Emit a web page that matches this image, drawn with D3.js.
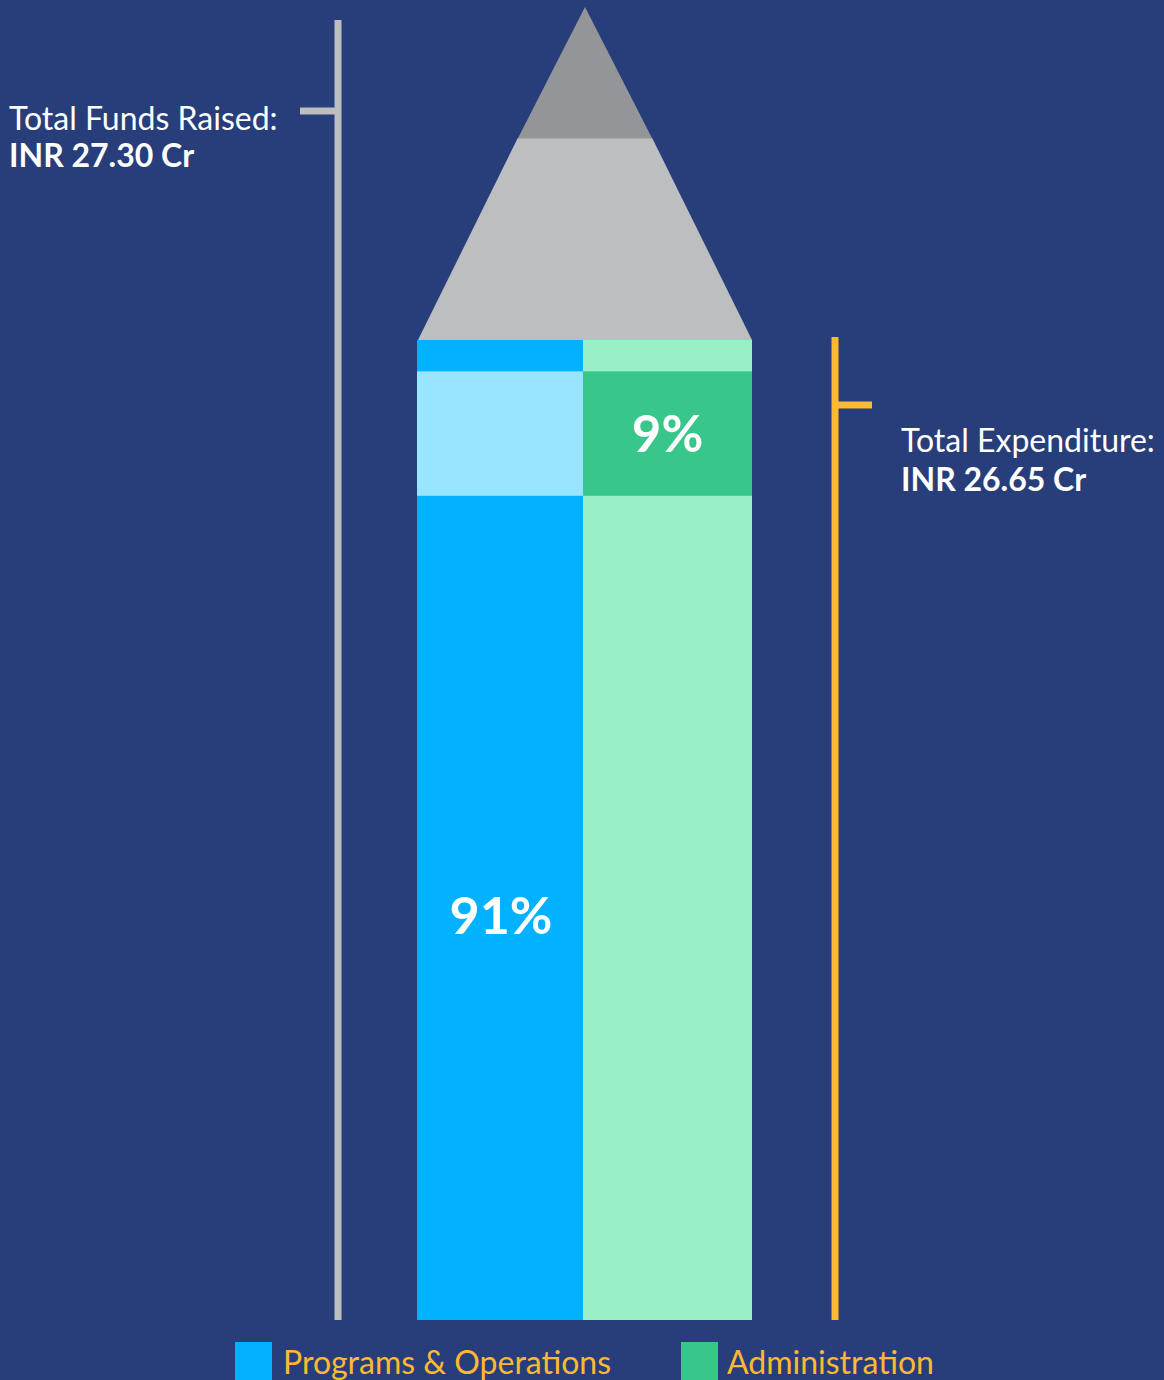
<!DOCTYPE html>
<html>
<head>
<meta charset="utf-8">
<script src="https://cdn.jsdelivr.net/npm/d3@7/dist/d3.min.js"></script>
<style>
  html, body { margin: 0; padding: 0; background: #273e7b; }
  svg { display: block; }
  text { font-family: Lato, "Open Sans", sans-serif; }
</style>
</head>
<body>
<svg id="chart" width="1164" height="1380"></svg>
<script>
// ---- data ----
const categories = ["Programs & Operations", "Administration"];
const shares = [91, 9];                       // percent of expenditure
const shareLabels = ["91%", "9%"];
const baseColors = ["#00b2ff", "#9af0c6"];    // column body colours
const bandColors = ["#99e5ff", "#38c68b"];    // highlighted band colours
const legendColors = ["#00b2ff", "#38c68b"];
const highlightBand = [84.1, 96.8];           // band within the body, % of body height
const fundsLabel = ["Total Funds Raised:", "INR 27.30 Cr"];
const expenseLabel = ["Total Expenditure:", "INR 26.65 Cr"];
const totals = [27.30, 26.65];

// ---- layout ----
const W = 1164, H = 1380;
const svg = d3.select("#chart");
svg.append("rect").attr("width", W).attr("height", H).attr("fill", "#273e7b");

const bodyL = 417, bodyR = 752;
const x = d3.scaleBand().domain(categories).range([bodyL, 749]).padding(0);
const colW = i => (i === categories.length - 1 ? bodyR - x(categories[i]) : x.bandwidth());
const y = d3.scaleLinear().domain([0, 100]).range([1320, 340]);

// pencil tip
const apex = {x: 585, y: 7};
const baseY = y(100);
const tipL = 418, tipR = 752;
const splitY = 138;
const tLerp = (splitY - apex.y) / (baseY - apex.y);
const sL = apex.x + (tipL - apex.x) * tLerp - 1.5, sR = apex.x + (tipR - apex.x) * tLerp + 1.5;
svg.append("path")
  .attr("d", `M${sL},${splitY} L${tipL},${baseY} L${tipR},${baseY} L${sR},${splitY} Z`)
  .attr("fill", "#bcbec0");
svg.append("path")
  .attr("d", `M${apex.x},${apex.y} L${sL},${splitY + 0.5} L${sR},${splitY + 0.5} Z`)
  .attr("fill", "#939598");

// pencil body columns
const cols = categories.map((c, i) => ({c, i}));
svg.selectAll("rect.col").data(cols).enter().append("rect")
  .attr("class", "col")
  .attr("x", d => x(d.c)).attr("width", d => colW(d.i))
  .attr("y", y(100)).attr("height", y(0) - y(100))
  .attr("fill", d => baseColors[d.i]);
svg.selectAll("rect.band").data(cols).enter().append("rect")
  .attr("class", "band")
  .attr("x", d => x(d.c)).attr("width", d => colW(d.i))
  .attr("y", y(highlightBand[1])).attr("height", y(highlightBand[0]) - y(highlightBand[1]))
  .attr("fill", d => bandColors[d.i]);

// percentage labels
svg.append("text")
  .attr("x", x(categories[0]) + colW(0) / 2 + 1).attr("y", 934)
  .attr("text-anchor", "middle").attr("fill", "#fff")
  .attr("font-weight", 700).attr("font-size", 52)
  .text(shareLabels[0]);
svg.append("text")
  .attr("x", x(categories[1]) + colW(1) / 2).attr("y", 452)
  .attr("text-anchor", "middle").attr("fill", "#fff")
  .attr("font-weight", 700).attr("font-size", 51)
  .text(shareLabels[1]);

// funds raised bracket (grey)
svg.append("line").attr("x1", 338).attr("x2", 338).attr("y1", 20).attr("y2", 1320)
  .attr("stroke", "#bcbec0").attr("stroke-width", 7);
svg.append("line").attr("x1", 300).attr("x2", 338).attr("y1", 111).attr("y2", 111)
  .attr("stroke", "#bcbec0").attr("stroke-width", 7);
svg.append("text").attr("x", 9).attr("y", 130).attr("fill", "#fff")
  .attr("font-size", 32).text(fundsLabel[0]);
svg.append("text").attr("x", 9).attr("y", 167).attr("fill", "#fff")
  .attr("font-size", 32).attr("font-weight", 700).text(fundsLabel[1]);

// expenditure bracket (orange)
svg.append("line").attr("x1", 835).attr("x2", 835).attr("y1", 337).attr("y2", 1320)
  .attr("stroke", "#fdb933").attr("stroke-width", 7);
svg.append("line").attr("x1", 835).attr("x2", 872).attr("y1", 405).attr("y2", 405)
  .attr("stroke", "#fdb933").attr("stroke-width", 7);
svg.append("text").attr("x", 901).attr("y", 452).attr("fill", "#fff")
  .attr("font-size", 32).text(expenseLabel[0]);
svg.append("text").attr("x", 901).attr("y", 491).attr("fill", "#fff")
  .attr("font-size", 32).attr("font-weight", 700).text(expenseLabel[1]);

// legend
const legendX = [235, 681];
const lg = svg.selectAll("g.leg").data(cols).enter().append("g")
  .attr("class", "leg")
  .attr("transform", d => `translate(${legendX[d.i]},1342)`);
lg.append("rect").attr("width", 37).attr("height", 40).attr("fill", d => legendColors[d.i]);
lg.append("text").attr("x", d => d.i === 0 ? 48 : 46).attr("y", 32)
  .attr("fill", "#fdb933").attr("font-size", 32)
  .text(d => d.c);
</script>
</body>
</html>
